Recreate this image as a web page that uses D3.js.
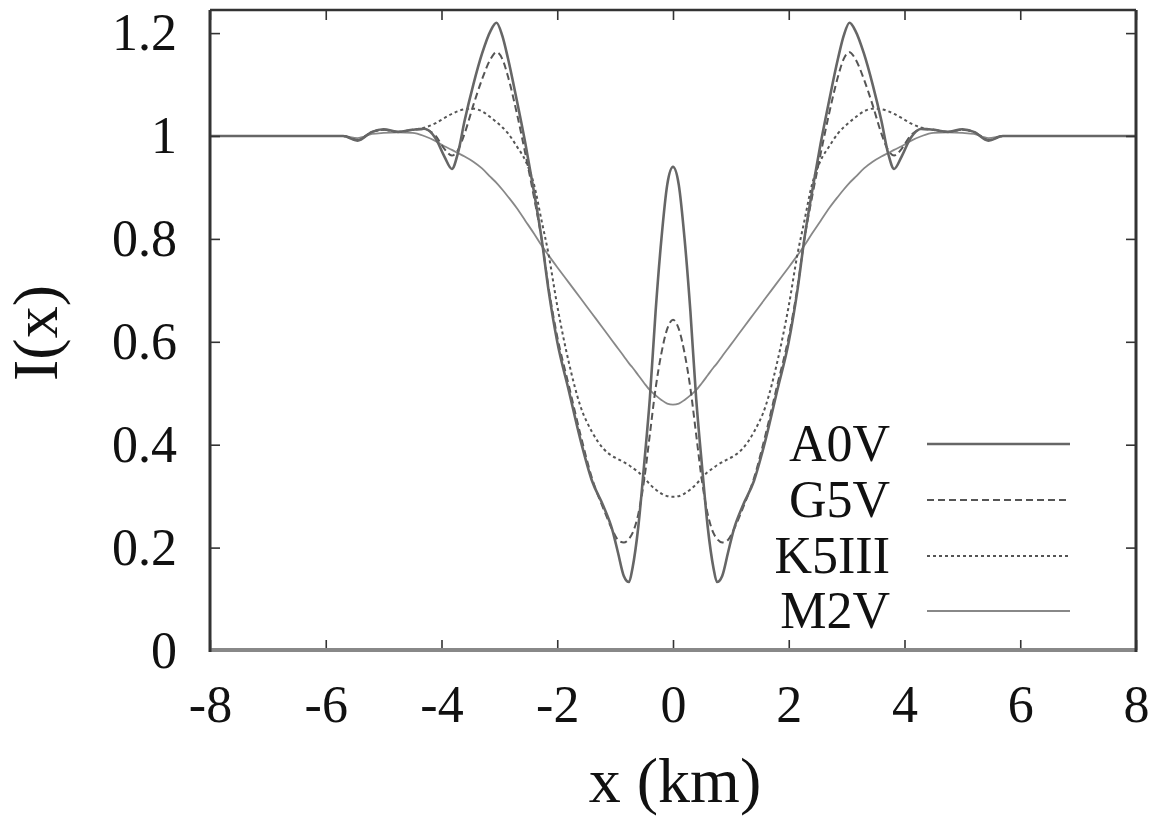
<!DOCTYPE html>
<html><head><meta charset="utf-8">
<script src="https://cdn.jsdelivr.net/npm/d3@7"></script>
<style>html,body{margin:0;padding:0;background:#fff;} svg{display:block;}</style>
</head><body>
<svg id="chart" width="1166" height="820"></svg>
<script>
// ---- data ----
const xPositions = [-8,-7,-6,-5.7,-5.45,-5.2,-5,-4.75,-4.5,-4.3,-4.1,-3.95,-3.82,-3.72,-3.6,-3.45,-3.3,-3.15,-3.05,-2.95,-2.85,-2.7,-2.55,-2.4,-2.27,-2.15,-2,-1.8,-1.6,-1.4,-1.2,-1.05,-0.95,-0.85,-0.76,-0.7,-0.6,-0.5,-0.4,-0.3,-0.2,-0.1,
  0,
  0.1,0.2,0.3,0.4,0.5,0.6,0.7,0.76,0.85,0.95,1.05,1.2,1.4,1.6,1.8,2,2.15,2.27,2.4,2.55,2.7,2.85,2.95,3.05,3.15,3.3,3.45,3.6,3.72,3.82,3.95,4.1,4.3,4.5,4.75,5,5.2,5.45,5.7,6,7,8];

const seriesNames = ["A0V", "G5V", "K5III", "M2V"];

const a0vValues = [1.0,1.0,1.0,1.0,0.991,1.008,1.013,1.008,1.012,1.014,0.995,0.96,0.936,0.965,1.03,1.10,1.16,1.205,1.22,1.195,1.15,1.07,0.985,0.89,0.80,0.70,0.60,0.505,0.41,0.33,0.28,0.235,0.19,0.145,0.133,0.16,0.24,0.36,0.49,0.66,0.80,0.905,
  0.94,
  0.905,0.80,0.66,0.49,0.36,0.24,0.16,0.133,0.145,0.19,0.235,0.28,0.33,0.41,0.505,0.60,0.70,0.80,0.89,0.985,1.07,1.15,1.195,1.22,1.205,1.16,1.10,1.03,0.965,0.936,0.96,0.995,1.014,1.012,1.008,1.013,1.008,0.991,1.0,1.0,1.0,1.0];

const g5vValues = [1.0,1.0,1.0,1.0,0.992,1.008,1.012,1.008,1.012,1.013,1.0,0.975,0.962,0.972,1.005,1.06,1.11,1.15,1.163,1.15,1.115,1.045,0.965,0.88,0.80,0.705,0.61,0.515,0.42,0.335,0.275,0.235,0.215,0.21,0.217,0.228,0.265,0.33,0.42,0.51,0.578,0.625,
  0.643,
  0.625,0.578,0.51,0.42,0.33,0.265,0.228,0.217,0.21,0.215,0.235,0.275,0.335,0.42,0.515,0.61,0.705,0.80,0.88,0.965,1.045,1.115,1.15,1.163,1.15,1.11,1.06,1.005,0.972,0.962,0.975,1.0,1.013,1.012,1.008,1.012,1.008,0.992,1.0,1.0,1.0,1.0];

const k5iiiValues = [1.0,1.0,1.0,1.0,0.992,1.008,1.012,1.008,1.012,1.016,1.025,1.035,1.043,1.048,1.052,1.053,1.048,1.036,1.027,1.017,1.005,0.98,0.952,0.905,0.835,0.77,0.67,0.56,0.475,0.425,0.392,0.378,0.372,0.366,0.36,0.355,0.347,0.336,0.323,0.313,0.305,0.3,
  0.299,
  0.3,0.305,0.313,0.323,0.336,0.347,0.355,0.36,0.366,0.372,0.378,0.392,0.425,0.475,0.56,0.67,0.77,0.835,0.905,0.952,0.98,1.005,1.017,1.027,1.036,1.048,1.053,1.052,1.048,1.043,1.035,1.025,1.016,1.012,1.008,1.012,1.008,0.992,1.0,1.0,1.0,1.0];

const m2vValues = [1.0,1.0,1.0,1.0,0.996,1.004,1.006,1.007,1.006,1.0,0.99,0.98,0.973,0.967,0.96,0.95,0.937,0.92,0.909,0.896,0.882,0.86,0.835,0.81,0.787,0.768,0.745,0.715,0.685,0.655,0.625,0.602,0.587,0.572,0.558,0.55,0.535,0.52,0.506,0.496,0.487,0.48,
  0.478,
  0.48,0.487,0.496,0.506,0.52,0.535,0.55,0.558,0.572,0.587,0.602,0.625,0.655,0.685,0.715,0.745,0.768,0.787,0.81,0.835,0.86,0.882,0.896,0.909,0.92,0.937,0.95,0.96,0.967,0.973,0.98,0.99,1.0,1.006,1.007,1.006,1.004,0.996,1.0,1.0,1.0,1.0];

const xTickValues = [-8, -6, -4, -2, 0, 2, 4, 6, 8];
const yTickValues = [0, 0.2, 0.4, 0.6, 0.8, 1, 1.2];
const xAxisLabel = "x (km)";
const yAxisLabel = "I(x)";

// ---- styles ----
const seriesData = { "A0V": a0vValues, "G5V": g5vValues, "K5III": k5iiiValues, "M2V": m2vValues };
const seriesStyle = {
  "A0V":   { stroke: "#666", width: 2.6, dash: null },
  "G5V":   { stroke: "#555", width: 2.0, dash: "7,4" },
  "K5III": { stroke: "#555", width: 2.0, dash: "3,3" },
  "M2V":   { stroke: "#888", width: 1.8, dash: null }
};
const FONT = "'Liberation Serif','DejaVu Serif',serif";

const svg = d3.select("#chart");
const L = 210, R = 1136, T = 10, B = 650;
const x = d3.scaleLinear().domain([-8, 8]).range([L, R]);
const y = d3.scaleLinear().domain([0, 1.2]).range([650.5, 650.5 - 1.2 * 514.5]);

// curves (draw M2V first so A0V sits on top)
const line = d3.line()
  .x((d, i) => x(xPositions[i]))
  .y(d => y(d))
  .curve(d3.curveMonotoneX);

const drawOrder = ["M2V", "K5III", "G5V", "A0V"];
svg.append("g").selectAll("path").data(drawOrder).join("path")
  .attr("d", n => line(seriesData[n]))
  .attr("fill", "none")
  .attr("stroke", n => seriesStyle[n].stroke)
  .attr("stroke-width", n => seriesStyle[n].width)
  .attr("stroke-dasharray", n => seriesStyle[n].dash)
  .attr("stroke-linejoin", "round");

// axes with inward ticks
const fmt = d => String(+d.toFixed(1));
const gx = svg.append("g").attr("transform", `translate(0,${B})`)
  .call(d3.axisBottom(x).tickValues(xTickValues).tickFormat(fmt).tickSizeInner(-10).tickSizeOuter(0).tickPadding(35));
const gy = svg.append("g").attr("transform", `translate(${L},0)`)
  .call(d3.axisLeft(y).tickValues(yTickValues).tickFormat(fmt).tickSizeInner(-10).tickSizeOuter(0).tickPadding(33));
const gxt = svg.append("g").attr("transform", `translate(0,${T})`)
  .call(d3.axisTop(x).tickValues(xTickValues).tickFormat("").tickSizeInner(-10).tickSizeOuter(0));
const gyr = svg.append("g").attr("transform", `translate(${R},0)`)
  .call(d3.axisRight(y).tickValues(yTickValues).tickFormat("").tickSizeInner(-10).tickSizeOuter(0));

[gx, gy, gxt, gyr].forEach(g => {
  g.select(".domain").remove();
  g.selectAll(".tick line").attr("stroke", "#333").attr("stroke-width", 1.6);
  g.selectAll(".tick text").attr("font-family", FONT).attr("font-size", 52).attr("fill", "#111");
});

// frame
svg.append("line").attr("x1", L).attr("x2", R).attr("y1", B).attr("y2", B).attr("stroke", "#888").attr("stroke-width", 4);
svg.append("line").attr("x1", L).attr("x2", R).attr("y1", T).attr("y2", T).attr("stroke", "#333").attr("stroke-width", 2.5);
svg.append("line").attr("x1", L).attr("x2", L).attr("y1", T).attr("y2", B + 2).attr("stroke", "#333").attr("stroke-width", 3);
svg.append("line").attr("x1", R).attr("x2", R).attr("y1", T).attr("y2", B + 2).attr("stroke", "#333").attr("stroke-width", 3);

// axis labels
svg.append("text").attr("x", 675).attr("y", 802).attr("text-anchor", "middle")
  .attr("font-family", FONT).attr("font-size", 64).attr("fill", "#111").text(xAxisLabel);
svg.append("text").attr("transform", "translate(57,333) rotate(-90)").attr("text-anchor", "middle")
  .attr("font-family", FONT).attr("font-size", 64).attr("fill", "#111").text(yAxisLabel);

// legend
const legendRows = [444, 500, 556, 611];
const lg = svg.append("g");
seriesNames.forEach((n, i) => {
  const cy = legendRows[i];
  lg.append("text").attr("x", 890).attr("y", cy + 17).attr("text-anchor", "end")
    .attr("font-family", FONT).attr("font-size", 52).attr("fill", "#111").text(n);
  lg.append("line").attr("x1", 927).attr("x2", 1070).attr("y1", cy).attr("y2", cy)
    .attr("stroke", seriesStyle[n].stroke)
    .attr("stroke-width", seriesStyle[n].width)
    .attr("stroke-dasharray", seriesStyle[n].dash);
});
</script>
</body></html>
